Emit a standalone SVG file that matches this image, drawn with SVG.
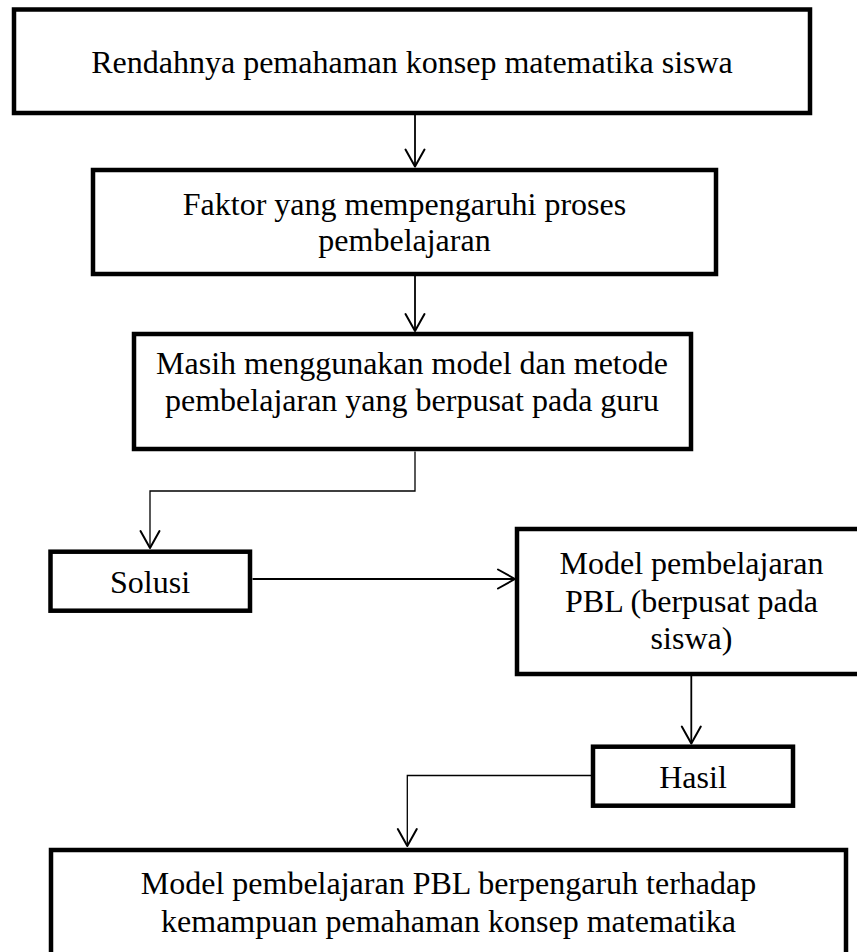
<svg xmlns="http://www.w3.org/2000/svg" width="857" height="952" viewBox="0 0 857 952">
<style>
.box{fill:#fff;stroke:#000;stroke-width:4.5;stroke-linejoin:miter}
.lbl{font-family:"Liberation Serif","Times New Roman",serif;font-size:32px;fill:#000;text-anchor:middle}
.con{fill:none;stroke:#000;stroke-width:1.8}
.thin{stroke-width:1.3}
</style>
<defs>
<marker id="arr" markerUnits="userSpaceOnUse" viewBox="-20 -15 30 30" markerWidth="30" markerHeight="30" refX="0" refY="0" orient="auto" overflow="visible">
<path d="M-17,-9.5 L0,0 L-17,9.5" fill="none" stroke="#000" stroke-width="2" stroke-linejoin="round" stroke-linecap="round"/>
</marker>
</defs>
<rect width="857" height="952" fill="#fff"/>
<g id="connectors">
<path class="con" d="M415,115 V166.5" marker-end="url(#arr)"/>
<path class="con" d="M415,276 V331" marker-end="url(#arr)"/>
<path class="con thin" d="M415,451.5 V491 H150 V548" marker-end="url(#arr)"/>
<path class="con" d="M252.5,579 H515" marker-end="url(#arr)"/>
<path class="con" d="M691.3,676 V743.5" marker-end="url(#arr)"/>
<path class="con thin" d="M591,775.5 H407.3 V846" marker-end="url(#arr)"/>
</g>
<g id="node1">
<rect class="box" x="14" y="9.5" width="796" height="103.5"/>
<text class="lbl" x="412" y="73">Rendahnya pemahaman konsep matematika siswa</text>
</g>
<g id="node2">
<rect class="box" x="93" y="170" width="623" height="104"/>
<text class="lbl" x="404.5" y="215">Faktor yang mempengaruhi proses</text>
<text class="lbl" x="404.5" y="251">pembelajaran</text>
</g>
<g id="node3">
<rect class="box" x="134" y="334" width="557" height="115"/>
<text class="lbl" x="412" y="373.5">Masih menggunakan model dan metode</text>
<text class="lbl" x="412" y="410.5">pembelajaran yang berpusat pada guru</text>
</g>
<g id="node4">
<rect class="box" x="50.5" y="551.7" width="199.5" height="59"/>
<text class="lbl" x="150" y="592.5">Solusi</text>
</g>
<g id="node5">
<rect class="box" x="517" y="529" width="350" height="145"/>
<text class="lbl" x="691.5" y="574">Model pembelajaran</text>
<text class="lbl" x="691.5" y="611.5">PBL (berpusat pada</text>
<text class="lbl" x="691.5" y="649">siswa)</text>
</g>
<g id="node6">
<rect class="box" x="593" y="746.7" width="200" height="59"/>
<text class="lbl" x="693" y="787.7">Hasil</text>
</g>
<g id="node7">
<rect class="box" x="51" y="850" width="795" height="110"/>
<text class="lbl" x="448.5" y="894">Model pembelajaran PBL berpengaruh terhadap</text>
<text class="lbl" x="448.5" y="931.5">kemampuan pemahaman konsep matematika</text>
</g>
</svg>
